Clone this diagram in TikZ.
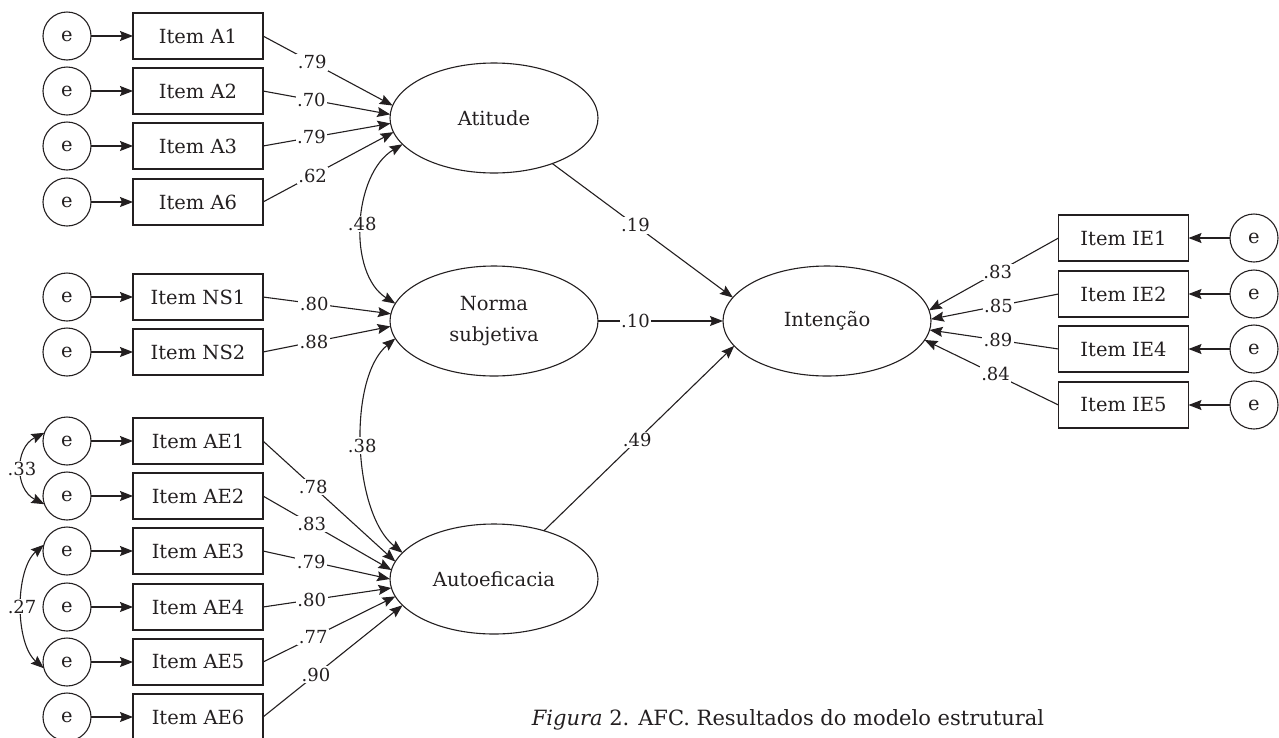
\documentclass[tikz,border=0pt]{standalone}
\usepackage{fontspec}
\setmainfont{DejaVu Serif}
\usetikzlibrary{arrows.meta,shapes.geometric}
\definecolor{ink}{HTML}{231F20}
\begin{document}
\begin{tikzpicture}[x=1pt,y=-1pt,
  every node/.style={font=\fontsize{19.5}{23}\selectfont, text=ink},
  err/.style={circle,draw=ink,line width=1.1pt,minimum size=48pt,inner sep=0pt,outer sep=0pt},
  item/.style={rectangle,draw=ink,line width=1.1pt,minimum width=130pt,minimum height=46pt,inner sep=0pt,outer sep=0pt},
  lat/.style={ellipse,draw=ink,line width=1.1pt,minimum width=208pt,minimum height=110pt,inner sep=0pt,outer sep=0pt},
  lbl/.style={fill=white,inner sep=1.5pt,font=\fontsize{18}{21}\selectfont},
  arr/.style={draw=ink,line width=1.1pt,-{Stealth[length=13pt,width=10pt,inset=2pt]}},
  darr/.style={draw=ink,line width=1.1pt,{Stealth[length=13pt,width=10pt,inset=2pt]}-{Stealth[length=13pt,width=10pt,inset=2pt]}}
]
\useasboundingbox (0,0) rectangle (1279,737);
% latent variables
\node[lat] (At) at (494,118) {Atitude};
\node[lat,align=center,font=\fontsize{19.5}{31}\selectfont] (NS) at (494,321) {Norma\\subjetiva};
\node[lat] (AE) at (494,579) {Autoeficacia};
\node[lat] (Int) at (827,321) {Intenção};
% left items
\foreach \n/\y in {A1/36,A2/91,A3/146,A6/202,NS1/297,NS2/352,AE1/441,AE2/496,AE3/551,AE4/607,AE5/662,AE6/717}{
  \node[item] (i\n) at (198,\y) {Item \n};
  \node[err] (e\n) at (67,\y) {e};
  \draw[arr] (e\n) -- (i\n);
}
% right items
\foreach \n/\y in {IE1/238,IE2/294,IE4/349,IE5/405}{
  \node[item] (i\n) at (1123.5,\y) {Item \n};
  \node[err] (e\n) at (1254,\y) {e};
  \draw[arr] (e\n) -- (i\n);
}
% loadings Atitude
\draw[arr] (iA1.east) -- node[lbl,pos=.38]{.79} (At.173);
\draw[arr] (iA2.east) -- node[lbl,pos=.38]{.70} (At.178);
\draw[arr] (iA3.east) -- node[lbl,pos=.38]{.79} (At.183);
\draw[arr] (iA6.east) -- node[lbl,pos=.38]{.62} (At.188);
% loadings Norma
\draw[arr] (iNS1.east) -- node[lbl,pos=.4]{.80} (NS.176.5);
\draw[arr] (iNS2.east) -- node[lbl,pos=.4]{.88} (NS.183.5);
% loadings Autoeficacia
\draw[arr] (iAE1.east) -- node[lbl,pos=.38]{.78} (AE.170.5);
\draw[arr] (iAE2.east) -- node[lbl,pos=.38]{.83} (AE.175.5);
\draw[arr] (iAE3.east) -- node[lbl,pos=.38]{.79} (AE.180.5);
\draw[arr] (iAE4.east) -- node[lbl,pos=.38]{.80} (AE.185);
\draw[arr] (iAE5.east) -- node[lbl,pos=.38]{.77} (AE.190.5);
\draw[arr] (iAE6.east) -- node[lbl,pos=.38]{.90} (AE.196.5);
% loadings Intencao
\draw[arr] (iIE1.west) -- node[lbl,pos=.47]{.83} (Int.6);
\draw[arr] (iIE2.west) -- node[lbl,pos=.47]{.85} (Int.1.7);
\draw[arr] (iIE4.west) -- node[lbl,pos=.47]{.89} (Int.355);
\draw[arr] (iIE5.west) -- node[lbl,pos=.47]{.84} (Int.349);
% structural paths
\draw[arr] (At.322.7) -- node[lbl,pos=.46]{.19} (Int.166);
\draw[arr] (NS.east) -- node[lbl,pos=.3]{.10} (Int.west);
\draw[arr] (AE.44.4) -- node[lbl,pos=.49]{.49} (Int.195.3);
% correlations between latents
\draw[darr] (At.196.6) .. controls +(-50,30) and +(-48,-30) .. node[lbl,pos=.5]{.48} (NS.170);
\draw[darr] (NS.190) .. controls +(-48,40) and +(-50,-40) .. node[lbl,pos=.5]{.38} (AE.164);
% error correlations
\draw[darr] (eAE1.160) .. controls +(-30,15) and +(-30,-15) .. node[lbl,pos=.5,inner sep=0.5pt]{.33} (eAE2.200);
\draw[darr] (eAE3.165) .. controls +(-29,25) and +(-29,-25) .. node[lbl,pos=.5,inner sep=0.5pt]{.27} (eAE5.195);
% caption
\node[font=\fontsize{21}{25}\selectfont] (cap) at (788,720) {\textit{Figura} 2. AFC. Resultados do modelo estrutural};
\end{tikzpicture}
\end{document}
